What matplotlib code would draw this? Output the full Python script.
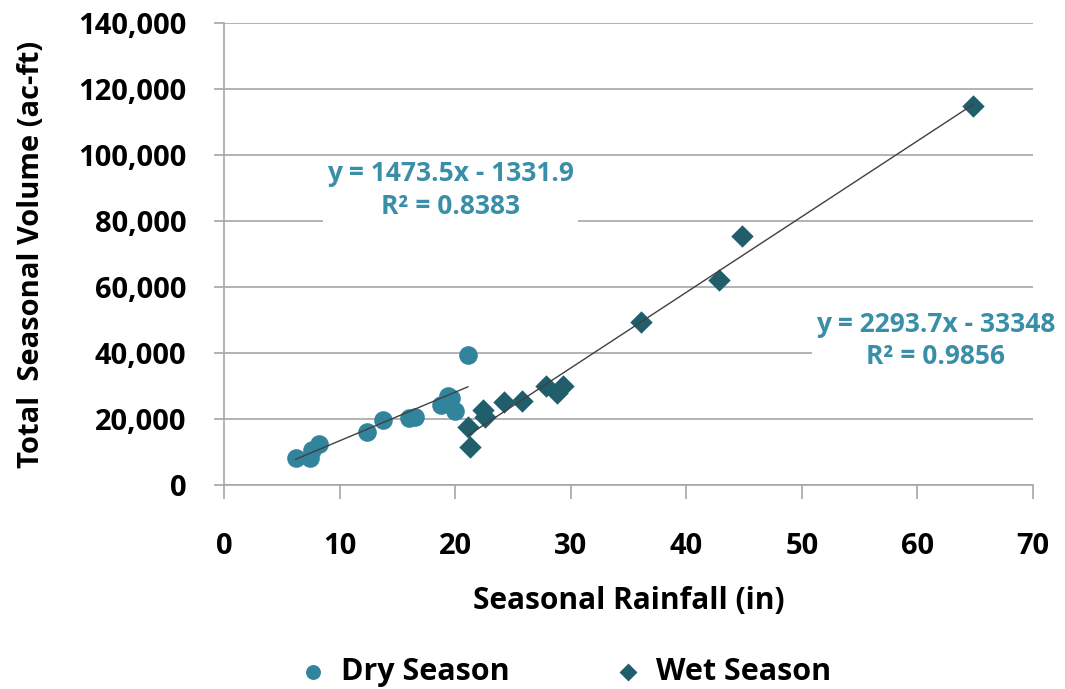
import matplotlib.pyplot as plt
from matplotlib.ticker import FuncFormatter
import numpy as np

plt.rcParams['font.family'] = ['Open Sans', 'DejaVu Sans']
plt.rcParams['font.weight'] = 'bold'

# Dry season points (rainfall in, volume ac-ft)
dry_x = [6.2, 7.4, 7.6, 8.2, 12.4, 13.8, 16.0, 16.5, 18.8, 19.4, 19.6, 20.0, 21.1]
dry_y = [8300, 8200, 10500, 12500, 16200, 19700, 20200, 20600, 24200, 27000, 26300, 22500, 39400]

# Wet season points
wet_x = [21.1, 21.3, 22.4, 22.6, 24.2, 25.8, 27.9, 28.8, 29.3, 36.1, 42.8, 44.8, 64.8]
wet_y = [17700, 11600, 22700, 20500, 25200, 25500, 30000, 27800, 30000, 49500, 62100, 75400, 114800]

# trendline coefficients (as printed on the chart)
dry_fit = (1473.5, -1331.9)
wet_fit = (2293.7, -33348)
dry_label = 'y = 1473.5x - 1331.9\nR² = 0.8383'
wet_label = 'y = 2293.7x - 33348\nR² = 0.9856'

dry_color = '#31849B'
wet_color = '#215E6C'
eq_color = '#3A8FA8'
grid_color = '#A6A6A6'

fig = plt.figure(figsize=(10.65, 6.89), dpi=100)
ax = fig.add_axes([0.2103, 0.296, 0.7597, 0.6706])

ax.scatter(dry_x, dry_y, s=180, marker='o', color=dry_color, linewidths=0, zorder=3, label='Dry Season')
ax.scatter(wet_x, wet_y, s=130, marker='D', color=wet_color, linewidths=0, zorder=3, label='Wet Season')

# trendlines over each data range
for xs, (m, b) in [(dry_x, dry_fit), (wet_x, wet_fit)]:
    xl = np.array([min(xs), max(xs)])
    ax.plot(xl, m * xl + b, color='#404040', lw=1.0, zorder=4)

ax.set_xlim(0, 70)
ax.set_ylim(0, 140000)
ax.set_xticks(range(0, 71, 10))
ax.set_yticks(range(0, 140001, 20000))
ax.yaxis.set_major_formatter(FuncFormatter(lambda v, p: f'{int(v):,}'))

ax.yaxis.grid(True, color=grid_color, lw=1.2, zorder=0)
ax.set_axisbelow(True)
for s in ['top', 'right']:
    ax.spines[s].set_visible(False)
for s in ['left', 'bottom']:
    ax.spines[s].set_color(grid_color)
    ax.spines[s].set_linewidth(1.2)
ax.tick_params(axis='y', length=7, width=1.2, color=grid_color, labelsize=21, pad=20)
ax.tick_params(axis='x', length=10, width=1.2, color=grid_color, labelsize=21, pad=24)
for lbl in ax.get_xticklabels() + ax.get_yticklabels():
    lbl.set_fontweight('bold')

ax.set_xlabel('Seasonal Rainfall (in)', fontsize=21.5, fontweight='bold', labelpad=18)
ax.set_ylabel('Total  Seasonal Volume (ac-ft)', fontsize=21, fontweight='bold', labelpad=23)

box = dict(facecolor='white', edgecolor='none', pad=3)
ax.text(19.6, 89400, dry_label, color=eq_color, fontsize=19, fontweight='bold',
        ha='center', va='center', multialignment='center', bbox=box, zorder=5, linespacing=1.25)
ax.text(61.6, 43900, wet_label, color=eq_color, fontsize=19, fontweight='bold',
        ha='center', va='center', multialignment='center', bbox=box, zorder=5, linespacing=1.25,
        clip_on=False)

h, l = ax.get_legend_handles_labels()
leg = fig.legend(h, l, loc='center', bbox_to_anchor=(0.530, 0.025), ncol=2, frameon=False,
                 fontsize=22, columnspacing=3.4, handlelength=1.0, handletextpad=0.4,
                 markerscale=0.8)
for t in leg.get_texts():
    t.set_fontweight('bold')

fig.savefig('out.png', dpi=100)
